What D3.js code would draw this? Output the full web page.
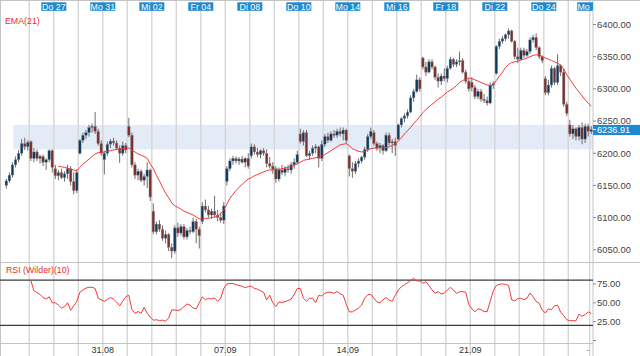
<!DOCTYPE html>
<html><head><meta charset="utf-8">
<script src="https://cdn.jsdelivr.net/npm/d3@7"></script>
<style>body{margin:0;background:#fff}svg{display:block;font-family:"Liberation Sans",Arial,sans-serif}</style>
</head><body>
<svg id="c" width="640" height="356"></svg>
<script>
// ---- data (hourly candles, 26.08 - 28.09) ----
const open = [
6150,6157,6166,6182,6190,6200,6215,6210,
6218,6192,6202,6192,6195,6186,6190,6204,
6176,6165,6170,6162,6168,6176,6156,6142,
6200,6220,6228,6232,6240,6242,6234,6215,
6190,6200,6214,6219,6216,6208,6200,6212,
6242,6228,6182,6166,6172,6158,6164,6174,
6110,6078,6090,6082,6068,6074,6054,6048,
6084,6076,6086,6070,6080,6078,6094,6082,
6094,6118,6112,6104,6110,6104,6100,6096,
6156,6176,6188,6192,6188,6191,6186,6192,
6196,6210,6202,6198,6204,6200,6184,6180,
6176,6160,6174,6170,6176,6174,6182,6186,
6230,6218,6232,6196,6200,6208,6210,6192,
6214,6226,6220,6230,6228,6234,6230,6236,
6196,6176,6172,6184,6188,6194,6206,6226,
6232,6215,6208,6212,6204,6228,6216,6218,
6222,6244,6254,6258,6264,6286,6296,6314,
6348,6334,6326,6342,6334,6318,6312,6320,
6316,6332,6346,6338,6342,6344,6326,6312,
6310,6302,6288,6296,6284,6282,6278,6306,
6324,6366,6374,6378,6384,6390,6374,6350,
6346,6360,6352,6358,6376,6380,6364,6350,
6316,6294,6306,6332,6310,6336,6326,6276,
6244,6230,6238,6226,6240,6222,6242,
6234];
const high = [
6160,6170,6186,6195,6205,6222,6224,6220,
6220,6208,6206,6198,6198,6192,6206,6206,
6182,6174,6176,6172,6182,6180,6170,6175,
6222,6232,6236,6244,6246,6264,6238,6220,
6204,6218,6222,6224,6220,6212,6218,6216,
6255,6232,6186,6176,6175,6168,6186,6176,
6122,6094,6096,6088,6080,6076,6060,6088,
6092,6090,6090,6084,6086,6100,6098,6086,
6124,6128,6118,6114,6134,6112,6108,6124,
6180,6192,6196,6195,6194,6196,6194,6200,
6215,6214,6208,6206,6208,6206,6194,6186,
6180,6178,6182,6180,6182,6186,6192,6204,
6238,6236,6236,6204,6212,6214,6212,6220,
6230,6232,6234,6236,6238,6240,6240,6238,
6198,6186,6188,6192,6196,6210,6230,6240,
6236,6218,6216,6214,6232,6232,6222,6224,
6246,6256,6262,6268,6290,6300,6322,6318,
6350,6342,6346,6346,6336,6324,6324,6332,
6336,6350,6348,6346,6358,6348,6330,6316,
6318,6306,6300,6300,6292,6288,6310,6312,
6368,6378,6382,6386,6394,6392,6376,6364,
6364,6364,6362,6380,6384,6386,6366,6352,
6320,6314,6336,6334,6354,6338,6332,6280,
6252,6244,6240,6244,6248,6246,6246,
6242];
const low = [
6145,6154,6162,6178,6186,6196,6205,6204,
6188,6186,6188,6184,6180,6174,6186,6170,
6160,6158,6160,6156,6160,6150,6136,6138,
6198,6216,6222,6226,6232,6230,6212,6196,
6167,6196,6208,6212,6205,6185,6196,6200,
6225,6178,6160,6158,6155,6150,6146,6126,
6074,6074,6078,6064,6060,6048,6037,6044,
6070,6072,6066,6066,6074,6076,6060,6052,
6090,6108,6100,6098,6100,6094,6092,6090,
6150,6172,6182,6184,6182,6184,6178,6176,
6192,6198,6194,6192,6196,6178,6176,6168,
6154,6156,6166,6164,6170,6168,6176,6182,
6215,6212,6194,6190,6196,6200,6178,6188,
6210,6216,6218,6224,6224,6226,6220,6216,
6164,6162,6168,6178,6184,6190,6202,6222,
6212,6204,6200,6198,6202,6212,6200,6196,
6220,6240,6248,6254,6262,6280,6294,6296,
6330,6320,6324,6330,6314,6302,6306,6312,
6310,6330,6334,6334,6336,6324,6308,6296,
6296,6284,6284,6280,6278,6274,6276,6300,
6322,6362,6370,6374,6378,6372,6346,6340,
6344,6348,6350,6354,6372,6360,6346,6340,
6290,6290,6302,6306,6306,6320,6272,6258,
6226,6222,6220,6220,6214,6216,6226,
6230];
const close = [
6157,6166,6182,6190,6200,6215,6210,6217,
6192,6202,6192,6195,6186,6190,6204,6178,
6165,6170,6162,6168,6176,6156,6142,6170,
6220,6228,6232,6240,6242,6234,6215,6200,
6200,6214,6219,6216,6208,6200,6212,6205,
6228,6182,6166,6172,6158,6164,6174,6132,
6078,6090,6082,6068,6074,6054,6048,6084,
6076,6086,6070,6080,6078,6094,6082,6072,
6118,6112,6104,6110,6104,6100,6096,6118,
6176,6188,6192,6188,6191,6186,6192,6180,
6210,6202,6198,6204,6200,6184,6180,6175,
6160,6174,6170,6176,6174,6182,6186,6198,
6218,6232,6196,6200,6208,6210,6192,6214,
6226,6220,6230,6228,6234,6230,6236,6220,
6176,6172,6184,6188,6194,6206,6226,6234,
6215,6208,6212,6204,6228,6216,6218,6212,
6244,6254,6258,6264,6286,6296,6314,6300,
6334,6326,6342,6334,6318,6312,6320,6316,
6332,6346,6338,6342,6344,6326,6312,6300,
6302,6288,6296,6284,6282,6278,6306,6308,
6366,6374,6378,6384,6390,6374,6350,6346,
6360,6352,6358,6376,6380,6364,6350,6344,
6294,6306,6332,6310,6336,6326,6276,6262,
6230,6238,6226,6240,6222,6242,6234,
6236.91];

// EMA(21) values, starting at candle 17
const emaStart = 17;
const ema21 = [
6180,6179,6178,6177,6175,6174,6173,
6178,6183,6187,6191,6195,6199,6201,6201,
6202,6203,6204,6205,6206,6207,6207,6208,
6208,6205,6202,6199,6197,6195,6192,6183,
6176,6166,6157,6147,6138,6131,6123,6118,
6116,6113,6110,6108,6106,6104,6101,6098,
6098,6099,6099,6100,6101,6102,6106,6112,
6121,6130,6136,6142,6147,6152,6156,6160,
6162,6165,6167,6169,6171,6173,6174,6174,
6175,6175,6176,6177,6178,6179,6181,6184,
6186,6189,6190,6191,6192,6193,6194,6195,
6198,6201,6204,6207,6210,6213,6214,6215,
6212,6207,6205,6203,6202,6203,6205,6207,
6208,6208,6209,6209,6209,6210,6212,6215,
6219,6224,6230,6235,6240,6246,6251,6257,
6263,6268,6272,6276,6280,6284,6287,6291,
6295,6298,6301,6305,6310,6313,6315,6317,
6316,6314,6312,6310,6308,6306,6305,6306,
6313,6320,6326,6333,6338,6341,6342,6343,
6345,6346,6348,6350,6352,6353,6353,6350,
6348,6346,6344,6342,6340,6337,6331,6322,
6315,6308,6301,6295,6289,6283,6278,6273];

// RSI (Wilder)(10) values, starting at candle 8
const rsiStart = 8;
const rsi10 = [
80,66,63.5,61,57,55,58,50,
50,47,43,45,50,40,46,51.6,
64,67,69.5,70.6,70.5,69,56,54,
52,54.5,57,55,51,46,52,58,
60,41,36,38.5,36,44,36,31,
27,27.5,26.5,27,25.5,30,40.5,40.5,
39.8,41,45,48.5,47,43,42,50,
58,54,56,55,56.5,52,56,69,
75,75.5,75.5,74,73,72,70,71.5,
72,69,68,66,64,54,60,50,
45,51,50.5,51.5,53,55,61,69,
69,56,52,56,56,50,60,59,
62.6,64,64,62.5,65,62,60,48,
38,38,40.5,43,47,56,60.5,61.3,
56,51.4,50,54,57,53.5,52,60,
67,71.4,74,76.5,79.5,82.5,79,79,
76,78,73,67,62.6,64.8,61.8,62.6,
67,70.5,67,62.6,64.6,64.8,64,48,
42,38,42,41,38.3,38.3,52,66,
73,74.5,75,74.5,73,54,52.5,55.5,
56,54,56,63,58,52,49.3,40,
36.5,42,41,46,47,37.5,33,27.5,
26.2,26.4,26,35,32,34.5,38,36];

// day boundaries (candle index of each day's first bar)
const dayStarts = [8,16,24,32,40,48,56,64,72,80,88,96,104,112,120,128,136,144,152,160,168,176,184,191];
const topLabels = ["Do 27","Mo 31","Mi 02","Fr 04","Di 08","Do 10","Mo 14","Mi 16","Fr 18","Di 22","Do 24","Mo 28"];
const topLabelIdx = [16,32,48,64,80,96,112,128,144,160,176,191];
const bottomLabels = ["31.08","07.09","14.09","21.09"];
const bottomLabelIdx = [32,72,112,152];
const priceTicks = [6050,6100,6150,6200,6250,6300,6350,6400];
const rsiTicks = [25,50,75];
const rsiLevels = [20,80];
const zoneBand = [6206,6244];
const zoneStartIdx = 2.8;
const nBars = close.length;

// ---- layout ----
const svg = d3.select("#c");
const plotR = 593, mainTop = 1, mainBot = 262.5, rsiBot = 343.5;
const x = d3.scaleLinear().domain([0, 192]).range([4.8, 592.8]);
const y = d3.scaleLinear().domain([6050, 6400]).range([249.8, 24.5]);
const yr = d3.scaleLinear().domain([0, 100]).range([340.5, 265.1]);
const cx = i => x(i + 0.5);

const defs = svg.append("defs");
defs.append("clipPath").attr("id","clipMain").append("rect").attr("x",0).attr("y",mainTop).attr("width",plotR).attr("height",mainBot-mainTop);
defs.append("clipPath").attr("id","clipRsi").append("rect").attr("x",0).attr("y",mainBot).attr("width",plotR).attr("height",rsiBot-mainBot);
defs.append("clipPath").attr("id","clipAll").append("rect").attr("x",0).attr("y",0).attr("width",plotR).attr("height",356);

// zone band
svg.append("rect").attr("x", x(zoneStartIdx)).attr("width", plotR - x(zoneStartIdx))
  .attr("y", y(zoneBand[1])).attr("height", y(zoneBand[0]) - y(zoneBand[1]))
  .attr("fill", "#e3ebf7");

// vertical gridlines
svg.append("g").selectAll("line").data(dayStarts).join("line")
  .attr("x1", d => x(d)).attr("x2", d => x(d)).attr("y1", mainTop).attr("y2", 356)
  .attr("stroke", "#d6d6d6").attr("stroke-width", 1.4);

// frame lines
const frame = svg.append("g").attr("stroke", "#c4c4c4").attr("stroke-width", 1);
frame.append("line").attr("x1",0).attr("x2",640).attr("y1",0.5).attr("y2",0.5);
frame.append("line").attr("x1",0.5).attr("x2",0.5).attr("y1",0).attr("y2",356);
frame.append("line").attr("x1",plotR).attr("x2",plotR).attr("y1",0).attr("y2",356);
frame.append("line").attr("x1",0).attr("x2",640).attr("y1",mainBot).attr("y2",mainBot);
frame.append("line").attr("x1",0).attr("x2",plotR).attr("y1",rsiBot).attr("y2",rsiBot);

// candles
const idx = d3.range(nBars);
const cg = svg.append("g").attr("clip-path","url(#clipMain)");
cg.selectAll("line.w").data(idx).join("line").attr("class","w")
  .attr("x1", i => cx(i)).attr("x2", i => cx(i))
  .attr("y1", i => y(high[i])).attr("y2", i => y(low[i]))
  .attr("stroke", "#6e6e6e").attr("stroke-width", 1);
cg.selectAll("rect.b").data(idx).join("rect").attr("class","b")
  .attr("x", i => cx(i) - 1.3).attr("width", 2.6)
  .attr("y", i => y(Math.max(open[i], close[i])))
  .attr("height", i => Math.max(1, Math.abs(y(open[i]) - y(close[i]))))
  .attr("fill", i => close[i] >= open[i] ? "#0b3a60" : "#7a302e")
  .attr("stroke", "#9a9a9a").attr("stroke-width", 0.4);

// EMA line
const emaLine = d3.line().x((d, k) => cx(emaStart + k)).y(d => y(d));
cg.append("path").datum(ema21).attr("d", emaLine)
  .attr("fill", "none").attr("stroke", "#f03a3a").attr("stroke-width", 1);

// RSI levels
svg.append("g").selectAll("line").data(rsiLevels).join("line")
  .attr("x1", 0).attr("x2", plotR).attr("y1", d => yr(d)).attr("y2", d => yr(d))
  .attr("stroke", "#3c3c3c").attr("stroke-width", 1.2);

// RSI line
const rsiLine = d3.line().x((d, k) => cx(rsiStart + k)).y(d => yr(d));
svg.append("path").attr("clip-path","url(#clipRsi)").datum(rsi10).attr("d", rsiLine)
  .attr("fill", "none").attr("stroke", "#f03a3a").attr("stroke-width", 1);

// indicator titles
svg.append("text").attr("x", 5).attr("y", 24).attr("font-size", 8.8).attr("fill", "#ee2a2a").text("EMA(21)");
svg.append("text").attr("x", 6).attr("y", 273).attr("font-size", 8.8).attr("fill", "#ee2a2a").text("RSI (Wilder)(10)");

// top date labels
const tg = svg.append("g").attr("clip-path","url(#clipAll)");
const tl = tg.selectAll("g").data(topLabels).join("g")
  .attr("transform", (d, k) => `translate(${x(topLabelIdx[k])},0)`);
tl.append("rect").attr("x", -12.5).attr("y", 2.3).attr("width", 25).attr("height", 8.5).attr("fill", "#2189cc");
tl.append("text").attr("x", 0).attr("y", 9.7).attr("text-anchor", "middle")
  .attr("font-size", 8.8).attr("fill", "#fff").text(d => d);

// bottom date labels
svg.append("g").selectAll("text").data(bottomLabels).join("text")
  .attr("x", (d, k) => x(bottomLabelIdx[k])).attr("y", 353)
  .attr("text-anchor", "middle").attr("font-size", 9).attr("fill", "#333").text(d => d);
svg.append("text").attr("x", x(191) - 2).attr("y", 352).attr("text-anchor","middle")
  .attr("font-size", 8).attr("fill", "#555").text("-");

// right price axis
const pa = svg.append("g");
pa.selectAll("line").data(priceTicks).join("line")
  .attr("x1", plotR).attr("x2", plotR + 3).attr("y1", d => y(d)).attr("y2", d => y(d))
  .attr("stroke", "#888");
pa.selectAll("text").data(priceTicks).join("text")
  .attr("x", 597).attr("y", d => y(d) + 3.4).attr("font-size", 9.4).attr("fill", "#444")
  .text(d => d3.format(".2f")(d));

// right RSI axis
const ra = svg.append("g");
ra.selectAll("line").data([0].concat(rsiTicks)).join("line")
  .attr("x1", plotR).attr("x2", plotR + 3).attr("y1", d => yr(d)).attr("y2", d => yr(d))
  .attr("stroke", "#888");
ra.selectAll("text").data(rsiTicks).join("text")
  .attr("x", 597).attr("y", d => yr(d) + 3.4).attr("font-size", 9.4).attr("fill", "#444")
  .text(d => d3.format(".2f")(d));

// last price box
const last = close[nBars - 1];
svg.append("rect").attr("x", plotR).attr("y", y(last) - 4.6).attr("width", 640 - plotR).attr("height", 10.2)
  .attr("fill", "#1f8ad0");
svg.append("line").attr("x1", plotR).attr("x2", plotR + 3).attr("y1", y(last)).attr("y2", y(last)).attr("stroke", "#fff");
svg.append("text").attr("x", 597).attr("y", y(last) + 3.6).attr("font-size", 9.2).attr("fill", "#fff")
  .text(d3.format(".2f")(last));
</script>
</body></html>
